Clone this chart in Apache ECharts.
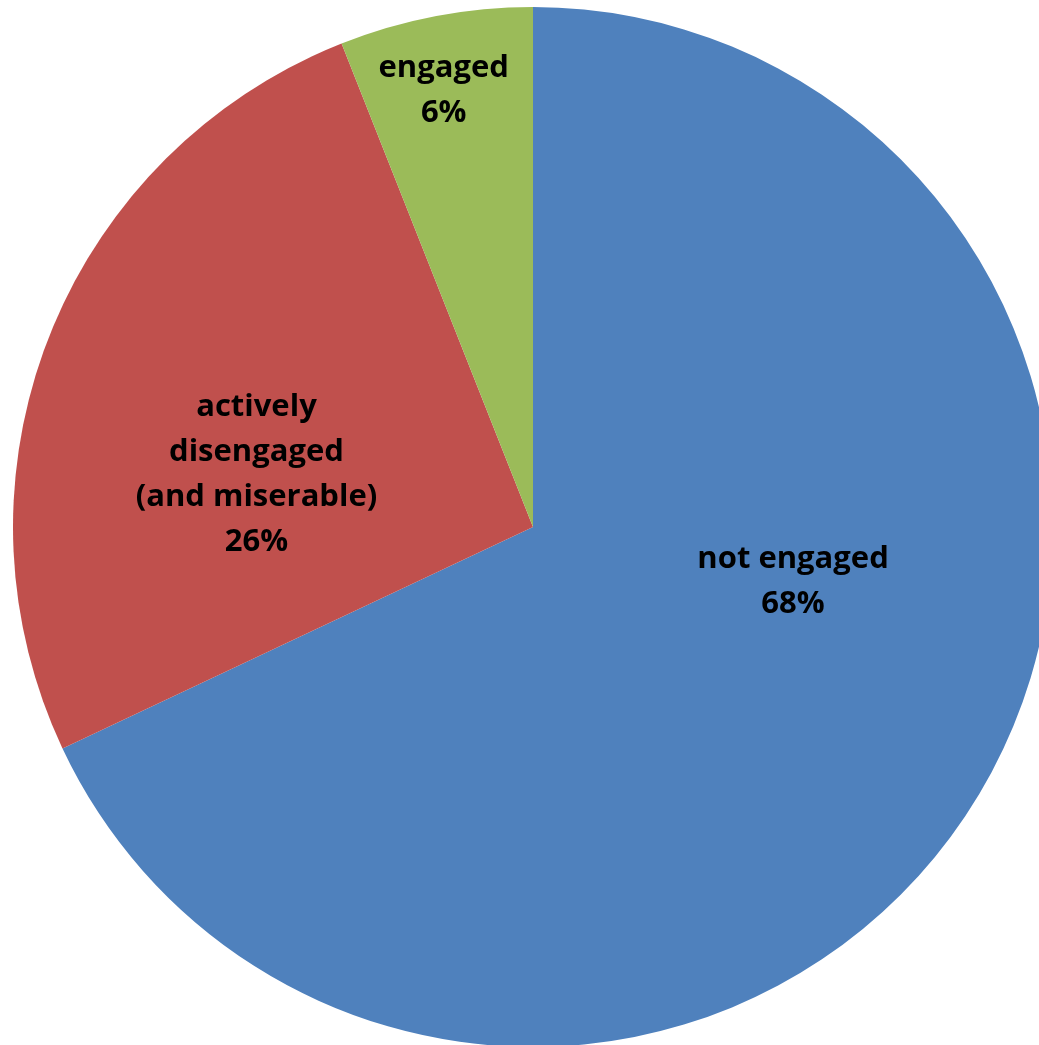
<!DOCTYPE html>
<html>
<head>
<meta charset="utf-8">
<script src="https://cdn.jsdelivr.net/npm/echarts@6/dist/echarts.min.js"></script>
<style>
html,body{margin:0;padding:0;background:#fff;}
#c{width:1039px;height:1045px;}
</style>
</head>
<body>
<div id="c"></div>
<script>
const categories = ["not engaged", "actively\ndisengaged\n(and miserable)", "engaged"];
const values = [68, 26, 6];
const colors = ["#4F81BD", "#C0504D", "#9BBB59"];
const labelOffsets = [[38, -86], [-32, 44], [-40, -178]];

const chart = echarts.init(document.getElementById('c'), null, {renderer: 'canvas'});
chart.setOption({
  animation: false,
  series: [{
    type: 'pie',
    center: [533, 527],
    radius: [0, 520],
    startAngle: 90,
    clockwise: true,
    avoidLabelOverlap: false,
    itemStyle: {borderWidth: 0},
    label: {
      show: true,
      position: 'inside',
      formatter: p => p.name + '\n' + p.value + '%',
      color: '#000',
      fontFamily: 'Open Sans',
      fontWeight: 'bold',
      fontSize: 31,
      lineHeight: 45,
      align: 'center'
    },
    labelLine: {show: false},
    emphasis: {disabled: true},
    data: categories.map((c, i) => ({
      name: c,
      value: values[i],
      itemStyle: {color: colors[i]},
      label: {offset: labelOffsets[i]}
    }))
  }]
});
</script>
</body>
</html>
